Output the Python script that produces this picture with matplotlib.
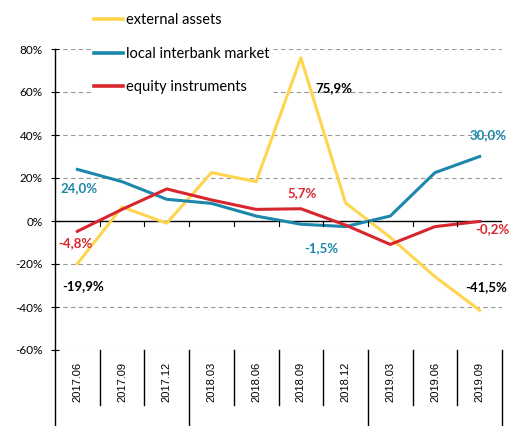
import matplotlib.pyplot as plt

plt.rcParams['font.family'] = ['Lato', 'DejaVu Sans']

periods = ["2017.06", "2017.09", "2017.12", "2018.03", "2018.06",
           "2018.09", "2018.12", "2019.03", "2019.06", "2019.09"]
external = [-19.9, 6.5, -1.0, 22.5, 18.3, 75.9, 8.4, -7.6, -25.9, -41.5]
interbank = [24.0, 18.3, 10.1, 8.2, 2.3, -1.5, -2.6, 2.3, 22.5, 30.0]
equity = [-4.8, 5.4, 14.9, 9.8, 5.4, 5.7, -1.9, -10.9, -2.6, -0.2]
year_groups = [3, 4, 3]  # quarters per year (2017, 2018, 2019)

c_yel = "#FFD54F"
c_blu = "#1B87AA"
c_red = "#D7262E"

fig = plt.figure(figsize=(5.12, 4.26), dpi=100)
ax = fig.add_axes([55/512, 76/426, 447/512, 301/426])

x = [i + 0.5 for i in range(len(periods))]
l1, = ax.plot(x, external, color=c_yel, lw=2.2, label="external assets")
l2, = ax.plot(x, interbank, color=c_blu, lw=2.2, label="local interbank market")
l3, = ax.plot(x, equity, color=c_red, lw=2.2, label="equity instruments")

ax.set_xlim(0, len(periods))
ax.set_ylim(-60, 80)
ax.set_yticks(range(-60, 81, 20))
ax.set_yticklabels([f"{v}%" for v in range(-60, 81, 20)], fontsize=8.5)
ax.tick_params(axis='y', direction='inout', length=6, width=0.8, pad=6)
for v in range(-60, 81, 20):
    if v != 0:
        ax.axhline(v, color="#999999", lw=0.8, ls=(0, (4, 3)), zorder=0)
ax.axhline(0, color="black", lw=1, zorder=1)

for s in ["top", "right", "bottom"]:
    ax.spines[s].set_visible(False)
ax.spines["left"].set_linewidth(1)
ax.set_xticks([])

# small ticks on the zero line
for i in range(1, len(periods)):
    ax.plot([i, i], [0, -2.5], color="black", lw=0.8)

# category axis below the plot
tr = ax.get_xaxis_transform()
bounds = [0]
for g in year_groups:
    bounds.append(bounds[-1] + g)
for i in range(len(periods) + 1):
    bottom = -0.2525 if i in bounds else -0.183
    ax.plot([i, i], [0, bottom], color="black", lw=1, transform=tr, clip_on=False)
for i, p in enumerate(periods):
    ax.text(i + 0.5, -0.106, p, transform=tr, rotation=90, ha='center',
            va='center', fontsize=8, family="Liberation Sans")

labels = [
    (0.54, 15.3, "24,0%", c_blu, 'center'), (0.46, -10.2, "-4,8%", c_red, 'center'),
    (0.62, -30.2, "-19,9%", "black", 'center'), (6.24, 61.9, "75,9%", "black", 'center'),
    (5.53, 13.0, "5,7%", c_red, 'center'), (5.96, -12.6, "-1,5%", c_blu, 'center'),
    (9.68, 40.0, "30,0%", c_blu, 'center'), (10.17, -3.7, "-0,2%", c_red, 'right'),
    (9.64, -30.7, "-41,5%", "black", 'center'),
]
for lx, ly, t, c, ha in labels:
    ax.text(lx, ly, t, color=c, fontsize=9.5, fontweight='bold',
            ha=ha, va='center', clip_on=False)

leg = fig.legend(handles=[l1, l2, l3], loc='upper left',
                 bbox_to_anchor=(91/512, 1 - 10/426), fontsize=10.5,
                 handlelength=2.0, handletextpad=0.2, labelspacing=1.35,
                 borderpad=0.2, borderaxespad=0, frameon=True,
                 facecolor="white", edgecolor="none", framealpha=1)
for h in leg.get_lines():
    h.set_linewidth(2.6)

fig.savefig("out.png", dpi=100)
